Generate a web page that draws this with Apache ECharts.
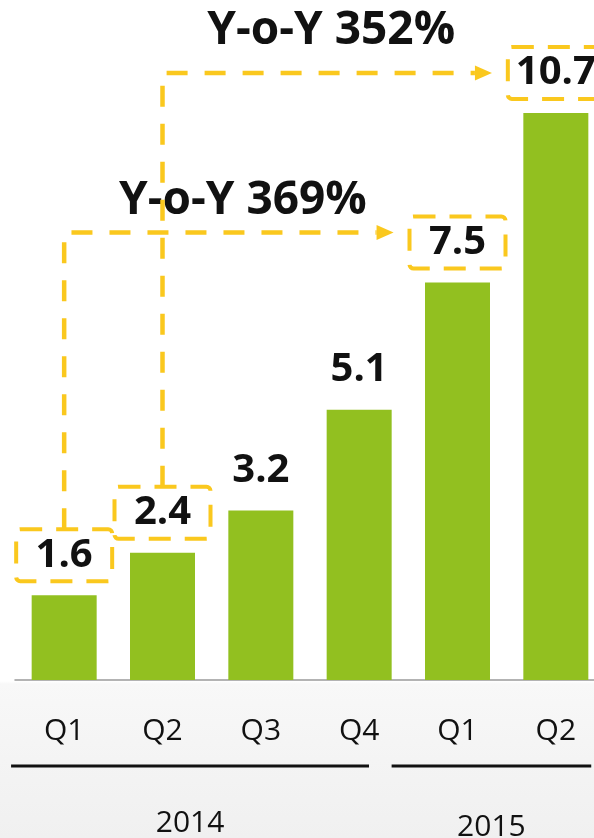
<!DOCTYPE html>
<html>
<head>
<meta charset="utf-8">
<script src="https://cdn.jsdelivr.net/npm/echarts@6/dist/echarts.min.js"></script>
<style>
html,body{margin:0;padding:0;background:#fff;}
#c{width:594px;height:838px;background:linear-gradient(to bottom,#ffffff 0px,#ffffff 681px,#f8f8f8 684px,#f4f4f4 760px,#f0f0f0 838px);}
</style>
</head>
<body>
<div id="c"></div>
<script>
// ---- data ----
const quarters = ['Q1', 'Q2', 'Q3', 'Q4', 'Q1', 'Q2'];
const values = [1.6, 2.4, 3.2, 5.1, 7.5, 10.7];
const boxedIndices = [0, 1, 4, 5];
const years = ['2014', '2015'];
const growthFrom = [0, 1];
const growthTo = [4, 5];
const growthTexts = ['Y-o-Y 369%', 'Y-o-Y 352%'];

// ---- layout / style (not data) ----
const GREEN = '#92C020';
const YELLOW = '#FAC81E';
const FONT = '"Open Sans", "Liberation Sans", sans-serif';
const yearLineExtents = [[-0.54, 3.1], [3.33, 5.36]]; // category units
const yearLabelDy = [143, 147]; // px below axis
const arrowLevelOffsets = [-50, -40]; // px from target bar top
const textOffsets = [[14, -32], [4, -42]]; // px from arrow mid / level
const arrowTipGap = 0.65; // category units before target

const chart = echarts.init(document.getElementById('c'), null, { renderer: 'canvas' });

const barData = values.map((v, i) => boxedIndices.indexOf(i) >= 0
  ? { value: v, label: { borderColor: YELLOW } }
  : v);

const option = {
  animation: false,
  backgroundColor: 'transparent',
  grid: { left: 15, top: 44, width: 590, height: 636, outerBoundsMode: 'none', containLabel: false },
  xAxis: {
    type: 'category',
    data: quarters,
    axisLine: { lineStyle: { color: '#9a9a9a', width: 1.5 } },
    axisTick: { show: false },
    axisLabel: { fontSize: 30, color: '#111', fontFamily: FONT, margin: 36 }
  },
  yAxis: {
    type: 'value', min: 0, max: 12, show: false,
    splitLine: { show: false }
  },
  series: [{
    type: 'bar',
    data: barData,
    barWidth: 65,
    itemStyle: { color: GREEN },
    label: {
      show: true,
      position: 'top',
      distance: 14,
      fontSize: 40,
      fontWeight: 'bold',
      fontFamily: FONT,
      color: '#111',
      width: 60,
      lineHeight: 40,
      padding: [6, 18],
      borderWidth: 4,
      borderType: [22, 14],
      borderRadius: 4,
      borderColor: 'transparent'
    }
  }]
};
chart.setOption(option);

// ---- annotations positioned through the chart's own scales ----
const xPx = i => chart.convertToPixel({ xAxisIndex: 0 }, i);
const band = xPx(1) - xPx(0);
const xAt = f => xPx(0) + f * band;
const yPx = v => chart.convertToPixel({ yAxisIndex: 0 }, v);

const graphics = [];
growthFrom.forEach((from, k) => {
  const to = growthTo[k];
  const x0 = xAt(from);
  const yStart = yPx(values[from]) - 66;
  const yLevel = yPx(values[to]) + arrowLevelOffsets[k];
  const tipX = xAt(to - arrowTipGap);
  const head = 17;
  graphics.push({
    type: 'polyline',
    shape: { points: [[x0, yStart], [x0, yLevel], [tipX - head, yLevel]] },
    style: { stroke: YELLOW, lineWidth: 4.5, lineDash: [21, 17], fill: null }
  });
  graphics.push({
    type: 'polygon',
    shape: { points: [[tipX - head, yLevel - 7.5], [tipX, yLevel], [tipX - head, yLevel + 7.5]] },
    style: { fill: YELLOW }
  });
  graphics.push({
    type: 'text',
    x: (x0 + tipX) / 2 + textOffsets[k][0],
    y: yLevel + textOffsets[k][1],
    style: {
      text: growthTexts[k], fill: '#111', fontSize: 46, fontWeight: 'bold',
      fontFamily: FONT, align: 'center', verticalAlign: 'middle'
    }
  });
});

const axisY = yPx(0);
years.forEach((yr, k) => {
  const [a, b] = yearLineExtents[k];
  graphics.push({
    type: 'line',
    shape: { x1: xAt(a), y1: axisY + 86, x2: xAt(b), y2: axisY + 86 },
    style: { stroke: '#111', lineWidth: 3 }
  });
  graphics.push({
    type: 'text',
    x: xAt((a + b) / 2),
    y: axisY + yearLabelDy[k],
    style: {
      text: yr, fill: '#111', fontSize: 30, fontFamily: FONT,
      align: 'center', verticalAlign: 'middle'
    }
  });
});

chart.setOption({ graphic: graphics });
</script>
</body>
</html>
